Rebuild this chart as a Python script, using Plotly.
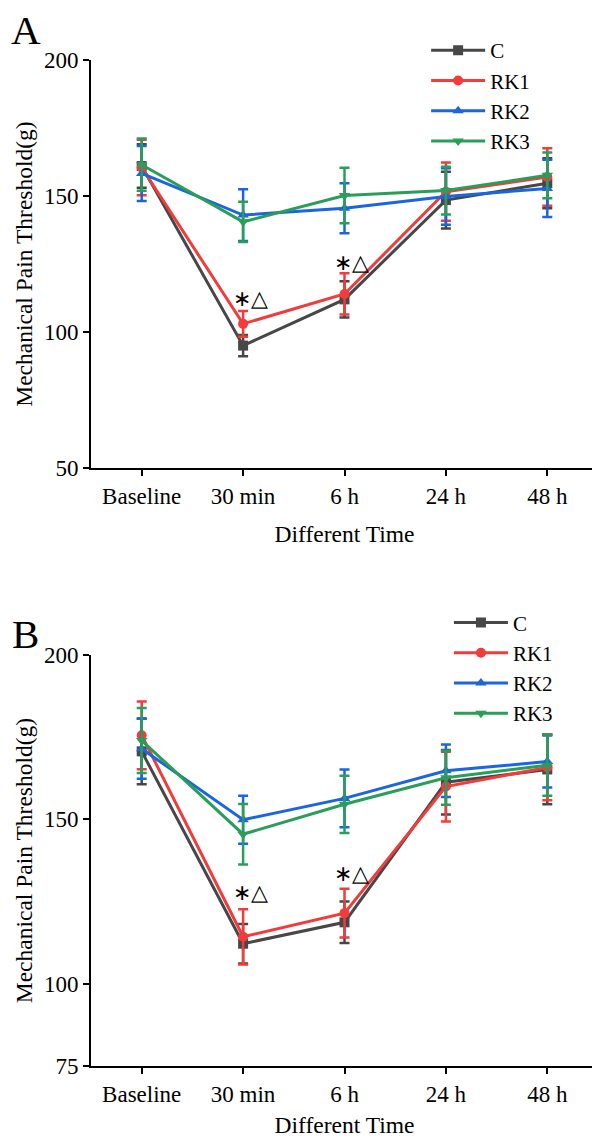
import plotly.graph_objects as go

categories = ["Baseline", "30 min", "6 h", "24 h", "48 h"]
groups = ["C", "RK1", "RK2", "RK3"]

# Panel A: mean and SD
a_C = [161.0, 95.0, 112.0, 148.5, 154.7]
a_RK1 = [160.5, 103.0, 114.0, 151.6, 157.0]
a_RK2 = [158.3, 143.0, 145.5, 149.8, 152.8]
a_RK3 = [161.5, 140.5, 150.2, 152.0, 157.6]
a_C_sd = [8.0, 3.9, 6.7, 10.4, 9.2]
a_RK1_sd = [10.2, 4.7, 7.6, 10.7, 10.6]
a_RK2_sd = [10.1, 9.5, 9.2, 10.4, 10.5]
a_RK3_sd = [9.6, 7.4, 10.2, 8.8, 8.4]

# Panel B: mean and SD
b_C = [170.7, 112.2, 118.7, 161.3, 165.2]
b_RK1 = [175.6, 114.3, 121.5, 160.0, 165.8]
b_RK2 = [171.5, 149.9, 156.4, 164.8, 167.6]
b_RK3 = [174.0, 145.5, 154.6, 162.7, 166.5]
b_C_sd = [10.0, 6.0, 6.3, 9.8, 10.6]
b_RK1_sd = [10.3, 8.4, 7.4, 10.6, 10.0]
b_RK2_sd = [9.1, 7.3, 8.8, 8.0, 7.9]
b_RK3_sd = [9.9, 9.2, 8.7, 8.2, 9.3]

# significance marks: (category index, y value)
a_sig = [(1, 112.5), (2, 125.7)]
b_sig = [(1, 127.7), (2, 133.7)]
sig_text = "<span style='font-family:DejaVu Sans'>∗</span>△"

colors = ["#474747", "#F23B3B", "#1B65E0", "#2A9E59"]
symbols = ["square", "circle", "triangle-up", "triangle-down"]

FONT = "Liberation Serif, Times New Roman, serif"

fig = go.Figure()

panelA = [(a_C, a_C_sd), (a_RK1, a_RK1_sd), (a_RK2, a_RK2_sd), (a_RK3, a_RK3_sd)]
panelB = [(b_C, b_C_sd), (b_RK1, b_RK1_sd), (b_RK2, b_RK2_sd), (b_RK3, b_RK3_sd)]

for panel, xa, ya, leg in [(panelA, "x", "y", "legend"), (panelB, "x2", "y2", "legend2")]:
    for i, (vals, sd) in enumerate(panel):
        fig.add_trace(go.Scatter(
            x=categories, y=vals, name=groups[i],
            xaxis=xa, yaxis=ya, legend=leg,
            mode="lines+markers",
            line=dict(color=colors[i], width=3),
            marker=dict(symbol=symbols[i], size=10, color=colors[i]),
            error_y=dict(type="data", array=sd, visible=True, color=colors[i],
                         thickness=2.5, width=5),
        ))

annotations = []
for sig, xr, yr in [(a_sig, "x", "y"), (b_sig, "x2", "y2")]:
    for ci, yv in sig:
        annotations.append(dict(x=ci + 0.07, y=yv, xref=xr, yref=yr, text=sig_text,
                                showarrow=False, font=dict(family=FONT, size=22, color="black"),
                                xanchor="center", yanchor="middle"))
annotations.append(dict(x=-0.128, y=1.0298, xref="paper", yref="paper", text="A", showarrow=False,
                        font=dict(family=FONT, size=41, color="black"), xanchor="center", yanchor="middle"))
annotations.append(dict(x=-0.13, y=0.4294, xref="paper", yref="paper", text="B", showarrow=False,
                        font=dict(family=FONT, size=41, color="black"), xanchor="center", yanchor="middle"))

axis_common = dict(showline=True, linecolor="black", linewidth=2, ticks="outside", ticklen=6,
                   tickwidth=2, tickcolor="black", showgrid=False, zeroline=False, automargin=False,
                   tickfont=dict(family=FONT, size=23, color="black"))

# the page body adds an 8px offset, so the figure is sized to fit inside 600x1138
fig.update_layout(
    width=592, height=1130,
    margin=dict(l=83, r=2, t=52, b=72),
    paper_bgcolor="white", plot_bgcolor="white",
    font=dict(family=FONT, size=22, color="black"),
    showlegend=True,
    xaxis=dict(domain=[0, 1], anchor="y", type="category", range=[-0.5, 4.5],
               title=dict(text="Different Time", font=dict(family=FONT, size=23.5), standoff=18),
               **axis_common),
    yaxis=dict(domain=[0.5944, 1.0], anchor="x", range=[50, 200], tickvals=[50, 100, 150, 200],
               title=dict(text="Mechanical Pain Threshold(g)", font=dict(family=FONT, size=23.5), standoff=5),
               **axis_common),
    xaxis2=dict(domain=[0, 1], anchor="y2", type="category", range=[-0.5, 4.5],
                title=dict(text="Different Time", font=dict(family=FONT, size=23.5), standoff=18),
                **axis_common),
    yaxis2=dict(domain=[0.0, 0.4085], anchor="x2", range=[75, 200], tickvals=[75, 100, 150, 200],
                title=dict(text="Mechanical Pain Threshold(g)", font=dict(family=FONT, size=23.5), standoff=5),
                **axis_common),
    legend=dict(x=0.661, y=1.0298, xanchor="left", yanchor="top", bgcolor="rgba(0,0,0,0)",
                font=dict(family=FONT, size=21, color="black"), tracegroupgap=0, itemwidth=54),
    legend2=dict(x=0.706, y=0.461, xanchor="left", yanchor="top", bgcolor="rgba(0,0,0,0)",
                 font=dict(family=FONT, size=21, color="black"), tracegroupgap=0, itemwidth=54),
    annotations=annotations,
)

fig.write_html("out.html")
